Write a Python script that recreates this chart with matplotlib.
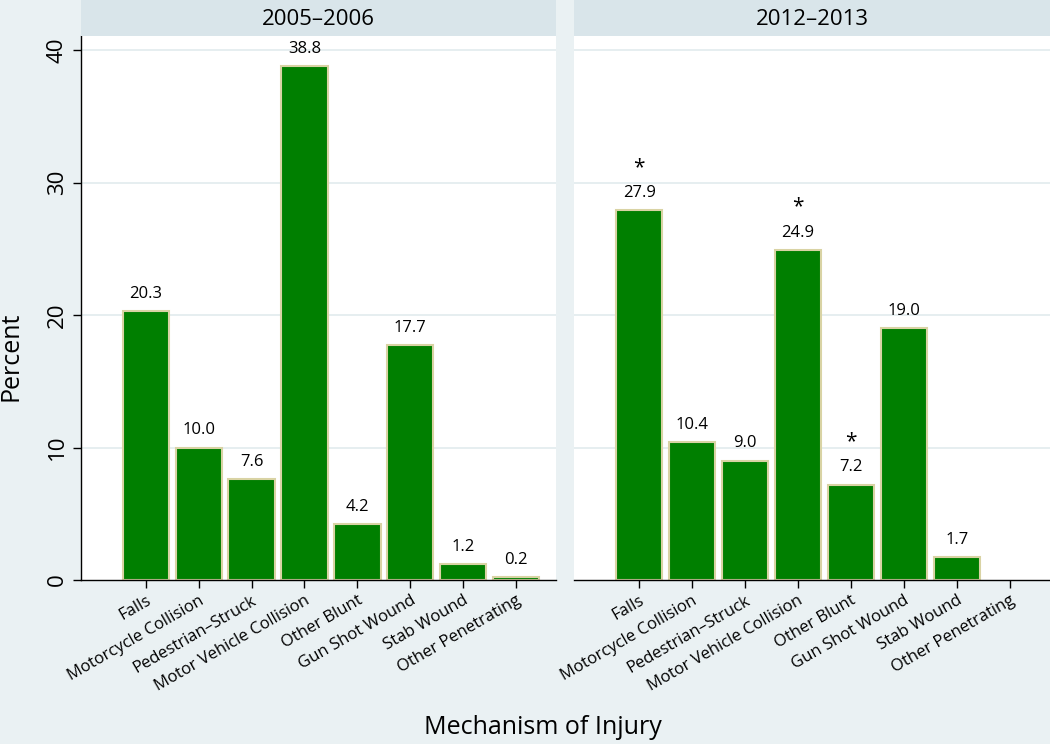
import numpy as np
import matplotlib
matplotlib.use("Agg")
import matplotlib.pyplot as plt

plt.rcParams['font.family'] = ['Open Sans', 'DejaVu Sans']

# data
categories = ["Falls", "Motorcycle Collision", "Pedestrian\u2013Struck",
              "Motor Vehicle Collision", "Other Blunt", "Gun Shot Wound",
              "Stab Wound", "Other Penetrating"]
periods = ["2005\u20132006", "2012\u20132013"]
pct_2005 = [20.3, 10.0, 7.6, 38.8, 4.2, 17.7, 1.2, 0.2]
pct_2012 = [27.9, 10.4, 9.0, 24.9, 7.2, 19.0, 1.7, np.nan]
signif_2012 = [True, False, False, True, True, False, False, False]

bg = "#EAF1F3"
strip_bg = "#D9E5EA"
bar_green = "#007F00"
bar_edge = "#D9D3A4"
grid_col = "#E2EBEE"

W, H = 1050, 744
fig = plt.figure(figsize=(W / 100, H / 100), dpi=100, facecolor=bg)


def px_axes(x0, y0, x1, y1):
    return fig.add_axes([x0 / W, 1 - y1 / H, (x1 - x0) / W, (y1 - y0) / H])


panels = [(81, 556), (574, 1050)]
series = [pct_2005, pct_2012]
stars = [[False] * 8, signif_2012]
x = np.arange(len(categories))

for i, ((x0, x1), vals, st) in enumerate(zip(panels, series, stars)):
    ax = px_axes(x0, 36, x1, 580)
    ax.set_facecolor("white")
    ax.set_ylim(0, 41.06)
    ax.set_xlim(-1.23, 7.76)
    ax.set_yticks([0, 10, 20, 30, 40])
    for y in [10, 20, 30, 40]:
        ax.axhline(y, color=grid_col, lw=1.2, zorder=0)
    v = np.array(vals, dtype=float)
    keep = ~np.isnan(v)
    ax.bar(x[keep], v[keep], width=0.88, color=bar_green,
           edgecolor=bar_edge, linewidth=1.5, zorder=2)
    for xi, val, s in zip(x, v, st):
        if np.isnan(val):
            continue
        ax.text(xi, val + 0.7, f"{val:.1f}", ha="center", va="bottom",
                fontsize=12, color="black")
        if s:
            ax.text(xi, val + 3.25, "*", ha="center", va="center",
                    fontsize=15, color="black")
    ax.set_xticks(x)
    ax.set_xticklabels(categories, rotation=30, ha="right",
                       rotation_mode="anchor", fontsize=12)
    ax.tick_params(axis="x", length=6, width=1, pad=3)
    for side in ["top", "right"]:
        ax.spines[side].set_visible(False)
    ax.spines["bottom"].set_linewidth(1)
    if i == 0:
        ax.spines["left"].set_linewidth(1)
        ax.tick_params(axis="y", length=6, width=1, labelsize=16)
        for lab in ax.get_yticklabels():
            lab.set_rotation(90)
            lab.set_va("center")
    else:
        ax.spines["left"].set_visible(False)
        ax.tick_params(axis="y", left=False, labelleft=False)

    sax = px_axes(x0, 0, x1, 36)
    sax.set_facecolor(strip_bg)
    sax.set_xticks([])
    sax.set_yticks([])
    for s in sax.spines.values():
        s.set_visible(False)
    sax.text(0.5, 0.45, periods[i], ha="center", va="center", fontsize=16,
             transform=sax.transAxes)

fig.text(11 / W, 1 - 356 / H, "Percent", rotation=90, ha="center",
         va="center", fontsize=18)
fig.text(543 / W, 1 - 727 / H, "Mechanism of Injury", ha="center",
         va="center", fontsize=18)

fig.savefig("out.png", dpi=100, facecolor=bg)
